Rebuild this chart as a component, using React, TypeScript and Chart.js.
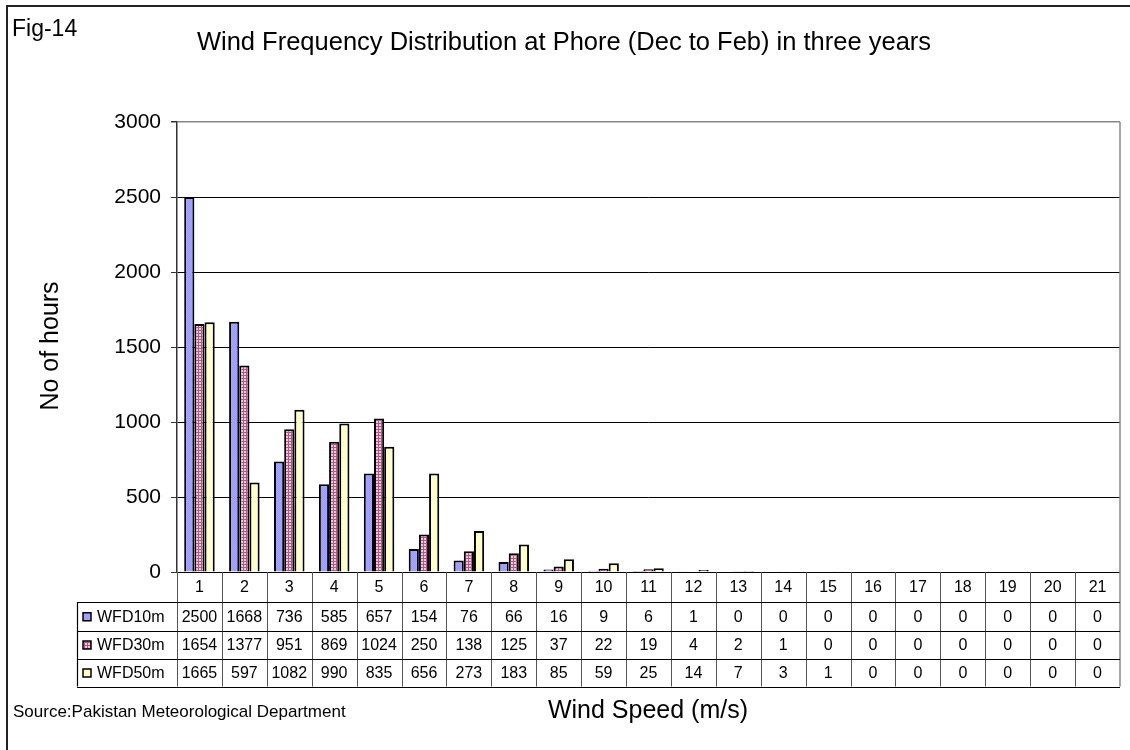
import React, { useEffect, useRef } from "react";
import { Chart, registerables } from "chart.js";
Chart.register(...registerables);

const categories = ["1","2","3","4","5","6","7","8","9","10","11","12","13","14","15","16","17","18","19","20","21"];
const wfd10m = [2500,1668,736,585,657,154,76,66,16,9,6,1,0,0,0,0,0,0,0,0,0];
const wfd30m = [1654,1377,951,869,1024,250,138,125,37,22,19,4,2,1,0,0,0,0,0,0,0];
const wfd50m = [1665,597,1082,990,835,656,273,183,85,59,25,14,7,3,1,0,0,0,0,0,0];
const seriesNames = ["WFD10m","WFD30m","WFD50m"];
const yMax = 3000;
const yStep = 500;

const FONT = "Arial, 'Liberation Sans', sans-serif";

function makePattern(kind: string): CanvasPattern | string {
  const c = document.createElement("canvas");
  const g = c.getContext("2d");
  if (!g) return "#ccc";
  if (kind === "blue") {
    c.width = 2; c.height = 2;
    g.fillStyle = "#9999FF"; g.fillRect(0,0,2,2);
    g.fillStyle = "#A6A6FF"; g.fillRect(0,0,1,1); g.fillRect(1,1,1,1);
  } else if (kind === "pink") {
    c.width = 3; c.height = 3;
    g.fillStyle = "#F0C8DC"; g.fillRect(0,0,3,3);
    g.fillStyle = "#AD5A88"; g.fillRect(0,0,3,1); g.fillRect(0,0,1,3);
  } else {
    c.width = 2; c.height = 2;
    g.fillStyle = "#FFFFCC"; g.fillRect(0,0,2,2);
  }
  const p = g.createPattern(c, "repeat");
  return p || "#ccc";
}

export default function App() {
  const ref = useRef<HTMLCanvasElement | null>(null);
  useEffect(() => {
    const canvas = ref.current;
    if (!canvas) return;
    const fills = [makePattern("blue"), makePattern("pink"), makePattern("yellow")];
    const series = [wfd10m, wfd30m, wfd50m];

    const decor = {
      id: "decor",
      beforeDraw(chart: any) {
        const ctx = chart.ctx;
        ctx.save();
        ctx.fillStyle = "#fff";
        ctx.fillRect(0, 0, chart.width, chart.height);
        ctx.restore();
      },
      afterDraw(chart: any) {
        const ctx = chart.ctx;
        const a = chart.chartArea;
        const xs = chart.scales.x;
        const cw = (a.right - a.left) / categories.length;
        ctx.save();
        // outer frame
        ctx.strokeStyle = "#222";
        ctx.lineWidth = 2;
        ctx.beginPath();
        ctx.moveTo(7, 750); ctx.lineTo(7, 6); ctx.lineTo(1130, 6);
        ctx.stroke();
        // plot right border
        ctx.strokeStyle = "#888";
        ctx.lineWidth = 1.5;
        ctx.beginPath();
        ctx.moveTo(a.right, a.top); ctx.lineTo(a.right, a.bottom);
        ctx.stroke();

        // texts
        ctx.fillStyle = "#000";
        ctx.textBaseline = "alphabetic";
        ctx.textAlign = "left";
        ctx.font = `23px ${FONT}`;
        ctx.fillText("Fig-14", 12, 36);
        ctx.textAlign = "center";
        ctx.font = `25.5px ${FONT}`;
        ctx.fillText("Wind Frequency Distribution at Phore (Dec to Feb) in three years", 564, 50);

        ctx.save();
        ctx.translate(51, 346);
        ctx.rotate(-Math.PI / 2);
        ctx.textBaseline = "middle";
        ctx.font = `25px ${FONT}`;
        ctx.fillText("No of hours", 0, 0);
        ctx.restore();

        // table
        const yTop = a.bottom;
        const rowsY = [a.bottom, a.bottom + 30, a.bottom + 58.5, a.bottom + 86.5, a.bottom + 114.5];
        const tableLeft = 77;
        ctx.lineWidth = 1;
        ctx.strokeStyle = "#555";
        for (let i = 1; i < categories.length; i++) {
          const x = Math.round(a.left + i * cw) + 0.5;
          ctx.beginPath(); ctx.moveTo(x, yTop); ctx.lineTo(x, rowsY[4]); ctx.stroke();
        }
        ctx.beginPath(); ctx.moveTo(a.left + 0.5, yTop); ctx.lineTo(a.left + 0.5, rowsY[4]); ctx.stroke();
        ctx.strokeStyle = "#888";
        ctx.lineWidth = 1.5;
        ctx.beginPath(); ctx.moveTo(a.right, yTop); ctx.lineTo(a.right, rowsY[4]); ctx.stroke();
        ctx.lineWidth = 1.2;
        ctx.strokeStyle = "#000";
        ctx.beginPath(); ctx.moveTo(tableLeft + 0.5, rowsY[1]); ctx.lineTo(tableLeft + 0.5, rowsY[4]); ctx.stroke();
        for (let r = 1; r <= 4; r++) {
          const y = Math.round(rowsY[r]) + 0.5;
          ctx.beginPath(); ctx.moveTo(tableLeft, y); ctx.lineTo(a.right, y); ctx.stroke();
        }
        ctx.font = `16px ${FONT}`;
        ctx.textAlign = "center";
        ctx.textBaseline = "middle";
        ctx.fillStyle = "#000";
        categories.forEach((c, i) => {
          ctx.fillText(c, xs.getPixelForValue(i), (rowsY[0] + rowsY[1]) / 2 + 1);
        });
        series.forEach((vals, r) => {
          const cy = (rowsY[r + 1] + rowsY[r + 2]) / 2 + 1;
          ctx.font = `16px ${FONT}`;
          ctx.textAlign = "center";
          ctx.fillStyle = "#000";
          vals.forEach((v, i) => {
            ctx.fillText(String(v), xs.getPixelForValue(i), cy);
          });
          // legend
          ctx.fillStyle = fills[r] as any;
          ctx.fillRect(83, cy - 4.5, 8, 8);
          ctx.strokeStyle = "#000";
          ctx.lineWidth = 1.5;
          ctx.strokeRect(83, cy - 4.5, 8, 8);
          ctx.fillStyle = "#000";
          ctx.textAlign = "left";
          ctx.font = `16px ${FONT}`;
          ctx.fillText(seriesNames[r], 97, cy);
        });

        ctx.textBaseline = "middle";
        ctx.textAlign = "left";
        ctx.font = `17px ${FONT}`;
        ctx.fillText("Source:Pakistan Meteorological Department", 13, 712);
        ctx.textAlign = "center";
        ctx.font = `25px ${FONT}`;
        ctx.fillText("Wind Speed (m/s)", 648, 711);
        ctx.restore();
      },
    };

    const chart = new Chart(canvas, {
      type: "bar",
      data: {
        labels: categories,
        datasets: series.map((vals, i) => ({
          label: seriesNames[i],
          data: vals,
          backgroundColor: fills[i] as any,
          borderColor: "#000",
          borderWidth: 2,
          categoryPercentage: 0.68,
          barPercentage: 1.0,
        })),
      },
      options: {
        responsive: false,
        maintainAspectRatio: false,
        animation: false,
        layout: { padding: { left: 0, top: 122, right: 10, bottom: 178 } },
        plugins: {
          legend: { display: false },
          tooltip: { enabled: false },
          title: { display: false },
        },
        scales: {
          x: { display: false },
          y: {
            min: 0,
            max: yMax,
            afterFit: (scale: any) => { scale.width = 177; },
            ticks: {
              stepSize: yStep,
              color: "#000",
              padding: 10,
              font: { family: FONT, size: 21 },
              callback: (v: any) => String(v),
            },
            grid: {
              color: (c: any) => (c.tick && c.tick.value === yMax ? "#888" : "#000"),
              lineWidth: (c: any) => (c.tick && c.tick.value === yMax ? 1.5 : 1),
              tickLength: 6,
              tickColor: "#333",
            },
            border: { display: true, color: "#333", width: 1.5 },
          },
        },
      },
      plugins: [decor],
    });
    return () => chart.destroy();
  }, []);

  return (
    <div style={{ position: "absolute", left: 0, top: 0, width: 1130, height: 750 }}>
      <canvas ref={ref} width={1130} height={750} style={{ width: 1130, height: 750, display: "block" }} />
    </div>
  );
}
